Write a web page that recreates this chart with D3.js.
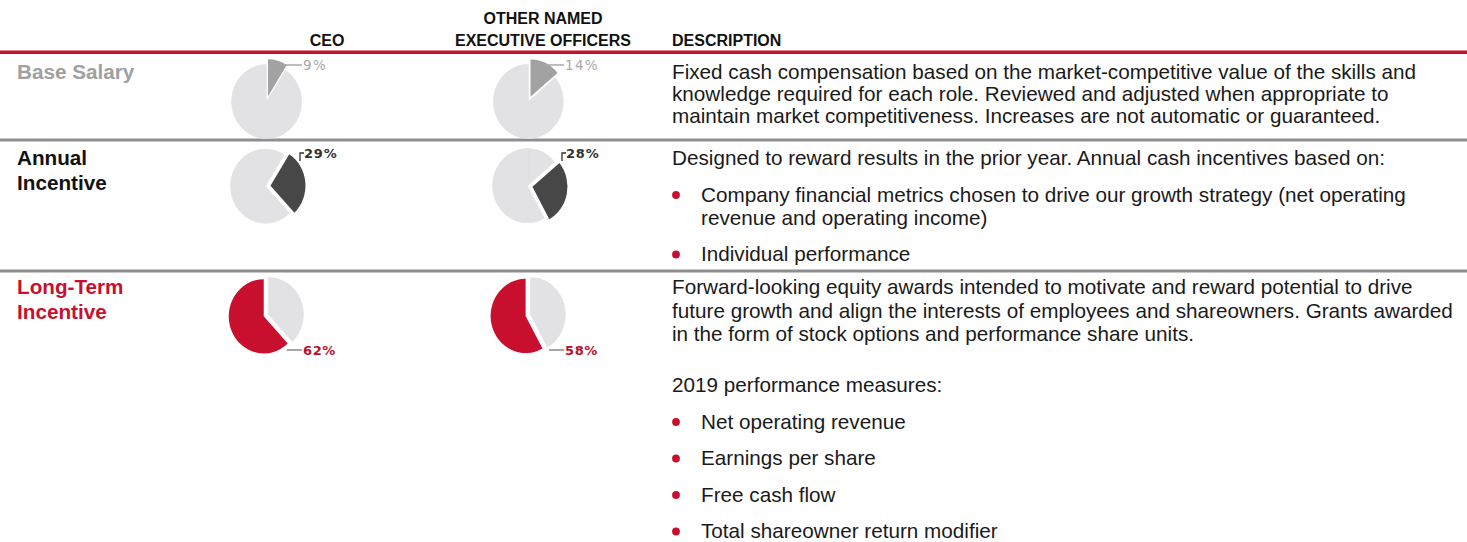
<!DOCTYPE html>
<html><head><meta charset="utf-8">
<script src="https://cdn.jsdelivr.net/npm/d3@7"></script>
<style>
html,body{margin:0;padding:0;background:#fff;}
svg{display:block;}
</style></head>
<body>
<svg id="chart" width="1467" height="542"></svg>
<script>
// ---------- data ----------
const segments = ["Base Salary", "Annual Incentive", "Long-Term Incentive"];
const ceoPct = [9, 29, 62];
const neoPct = [14, 28, 58];
const rowLabelLines = [["Base Salary"], ["Annual", "Incentive"], ["Long-Term", "Incentive"]];
const headerCeo = ["CEO"];
const headerNeo = ["OTHER NAMED", "EXECUTIVE OFFICERS"];
const headerDesc = ["DESCRIPTION"];
const descBaseSalary = [
  ["p", ["Fixed cash compensation based on the market-competitive value of the skills and",
         "knowledge required for each role. Reviewed and adjusted when appropriate to",
         "maintain market competitiveness. Increases are not automatic or guaranteed."]]
];
const descAnnual = [
  ["p", ["Designed to reward results in the prior year. Annual cash incentives based on:"]],
  ["li", ["Company financial metrics chosen to drive our growth strategy (net operating",
          "revenue and operating income)"]],
  ["li", ["Individual performance"]]
];
const descLongTerm = [
  ["p", ["Forward-looking equity awards intended to motivate and reward potential to drive",
         "future growth and align the interests of employees and shareowners. Grants awarded",
         "in the form of stock options and performance share units."]],
  ["p", ["2019 performance measures:"]],
  ["li", ["Net operating revenue"]],
  ["li", ["Earnings per share"]],
  ["li", ["Free cash flow"]],
  ["li", ["Total shareowner return modifier"]]
];
const descriptions = [descBaseSalary, descAnnual, descLongTerm];

// ---------- styles ----------
const RED = "#c8102e";
const LIGHT = "#e2e2e4";
const hiColor = d3.scaleOrdinal(segments, ["#a2a2a2", "#474747", RED]);
const labelColor = d3.scaleOrdinal(segments, ["#a0a0a0", "#111", RED]);
const pctColor = d3.scaleOrdinal(segments, ["#a8a8a8", "#333", "#b5112c"]);
const FONT = "'Liberation Sans', Arial, Helvetica, sans-serif";
const PFONT = "'DejaVu Sans', Verdana, sans-serif";

const svg = d3.select("#chart");

// layout scales
const colX = d3.scaleOrdinal(["ceo", "neo"], [267, 529]);
const rowCY = d3.scaleOrdinal(segments, [100, 186, 315]);
const rowBase = d3.scaleOrdinal(segments, [79, 165, 294]);
const rowLineH = d3.scaleOrdinal(segments, [22, 23, 23.5]);
const ruleY = [140, 271];

// ---------- header ----------
const hdr = svg.append("g").attr("font-family", FONT).attr("font-weight", "bold")
  .attr("font-size", 16).attr("fill", "#111");
headerCeo.forEach(t => hdr.append("text").attr("x", 327).attr("y", 46).attr("text-anchor", "middle").text(t));
headerNeo.forEach((t, i) => hdr.append("text").attr("x", 543).attr("y", 24 + i * 22).attr("text-anchor", "middle").text(t));
headerDesc.forEach(t => hdr.append("text").attr("x", 672).attr("y", 46).text(t));

// rules
svg.append("rect").attr("x", 0).attr("y", 50.5).attr("width", 1467).attr("height", 3.5).attr("fill", RED);
ruleY.forEach(y => svg.append("rect").attr("x", 0).attr("y", y - 1.5).attr("width", 1467).attr("height", 3).attr("fill", "#8e8e8e"));

// ---------- row labels ----------
segments.forEach((s, i) => {
  rowLabelLines[i].forEach((ln, j) => {
    svg.append("text").attr("x", 17).attr("y", rowBase(s) + j * 25)
      .attr("font-family", FONT).attr("font-weight", "bold").attr("font-size", 20.7)
      .attr("fill", labelColor(s)).text(ln);
  });
});

// ---------- pies ----------
const R = 35;
const pie = d3.pie().sort(null).value(d => d);
const arc = d3.arc().innerRadius(0).outerRadius(R);

function drawPie(values, col, rowIdx) {
  const seg = segments[rowIdx];
  const cx = colX(col), cy = rowCY(seg);
  const arcs = pie(values);
  const g = svg.append("g").attr("transform", `translate(${cx},${cy}) scale(1,1.06)`);
  const hi = arcs[rowIdx];
  const restStart = hi.endAngle, restEnd = hi.startAngle + 2 * Math.PI;
  const restMid = (restStart + restEnd) / 2;
  const hiMid = (hi.startAngle + hi.endAngle) / 2;
  const offHi = 3.5, offRest = 1.5;
  arcs.forEach((a, k) => {
    const isHi = k === rowIdx;
    const m = isHi ? hiMid : restMid;
    const off = isHi ? offHi : offRest;
    g.append("path")
      .attr("d", arc(a))
      .attr("transform", `translate(${Math.sin(m) * off},${-Math.cos(m) * off})`)
      .attr("fill", isHi ? hiColor(seg) : LIGHT)
      .attr("stroke", isHi ? "none" : LIGHT).attr("stroke-width", 0.6);
  });
  const lg = svg.append("g");
  const txt = values[rowIdx] + "%";
  const stroke = pctColor(seg);
  if (rowIdx === 0) {
    lg.append("line").attr("x1", cx + 16).attr("x2", cx + 35).attr("y1", cy - 35).attr("y2", cy - 35)
      .attr("stroke", stroke).attr("stroke-width", 1.5);
    lg.append("text").attr("x", cx + 36).attr("y", cy - 30.5).attr("font-family", PFONT)
      .attr("font-size", 13.5).attr("letter-spacing", 1.3).attr("fill", stroke).text(txt);
  } else if (rowIdx === 1) {
    lg.append("path").attr("d", `M${cx + 33},${cy - 25}V${cy - 33}H${cx + 37}`)
      .attr("fill", "none").attr("stroke", stroke).attr("stroke-width", 1.3);
    lg.append("text").attr("x", cx + 37).attr("y", cy - 28.5).attr("font-family", PFONT)
      .attr("font-weight", "bold").attr("font-size", 13).attr("letter-spacing", 0.8).attr("fill", stroke).text(txt);
  } else {
    lg.append("line").attr("x1", cx + 20).attr("x2", cx + 35).attr("y1", cy + 35).attr("y2", cy + 35)
      .attr("stroke", "#777").attr("stroke-width", 1.3);
    lg.append("text").attr("x", cx + 36).attr("y", cy + 39.5).attr("font-family", PFONT)
      .attr("font-weight", "bold").attr("font-size", 13).attr("letter-spacing", 0.6).attr("fill", stroke).text(txt);
  }
}
segments.forEach((s, i) => {
  drawPie(ceoPct, "ceo", i);
  drawPie(neoPct, "neo", i);
});

// ---------- descriptions ----------
const BULLET_GAP = 36.5, PARA_GAP = 51;
const TX = 672, BX = 676, BTX = 701;
segments.forEach((s, i) => {
  let y = rowBase(s);
  let prevType = null;
  descriptions[i].forEach((blk, b) => {
    const [type, lines] = blk;
    if (b > 0) y += (type === "p" && prevType === "p") ? PARA_GAP : BULLET_GAP;
    if (type === "li") {
      svg.append("circle").attr("cx", BX).attr("cy", y - 6.5).attr("r", 3.9).attr("fill", RED);
    }
    lines.forEach((ln, j) => {
      if (j > 0) y += rowLineH(s);
      svg.append("text").attr("x", type === "li" ? BTX : TX).attr("y", y)
        .attr("font-family", FONT).attr("font-size", 20.7).attr("fill", "#1a1a1a").text(ln);
    });
    prevType = type;
  });
});
</script>
</body></html>
